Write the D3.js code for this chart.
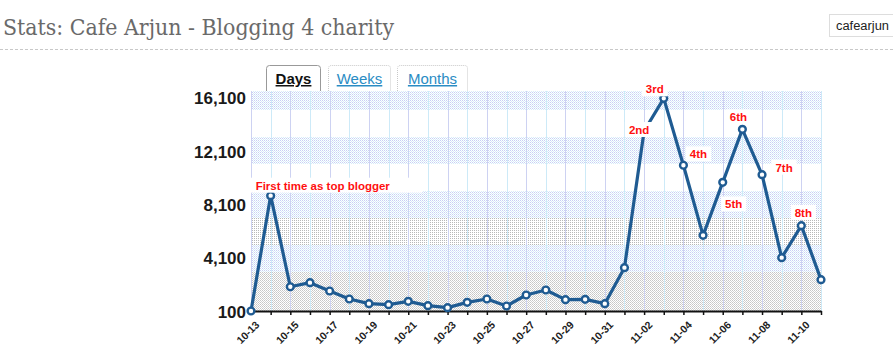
<!DOCTYPE html>
<html><head><meta charset="utf-8">
<script src="https://cdn.jsdelivr.net/npm/d3@7"></script>
<style>
html,body{margin:0;padding:0;background:#fff;}
svg{display:block;}
</style></head>
<body>
<svg id="chart" width="893" height="357"></svg>
<script>
const title = "Stats: Cafe Arjun - Blogging 4 charity";
const userName = "cafearjun";
const tabs = ["Days", "Weeks", "Months"];
const dates = ["10-13","10-14","10-15","10-16","10-17","10-18","10-19","10-20","10-21","10-22",
  "10-23","10-24","10-25","10-26","10-27","10-28","10-29","10-30","10-31","11-01",
  "11-02","11-03","11-04","11-05","11-06","11-07","11-08","11-09","11-10","11-11"];
const views = [100, 8750, 1920, 2225, 1600, 1000, 650, 575, 825, 500,
  350, 750, 1000, 475, 1300, 1675, 950, 975, 650, 3350,
  13600, 16050, 11030, 5775, 9750, 13725, 10325, 4100, 6500, 2450];
const yTicks = [100, 4100, 8100, 12100, 16100];
const xTickLabels = dates.filter((d, i) => i % 2 === 0);
const annotations = [
  {date: "10-14", text: "First time as top blogger"},
  {date: "11-02", text: "2nd"},
  {date: "11-03", text: "3rd"},
  {date: "11-04", text: "4th"},
  {date: "11-06", text: "5th"},
  {date: "11-07", text: "6th"},
  {date: "11-08", text: "7th"},
  {date: "11-10", text: "8th"}
];
const bandEdges = [100, 3025, 5050, 7075, 9100, 11125, 13150, 15175, 16600];
const bandKinds = ["grayDense", "blue", "graySparse", "blue", "white", "blue", "white", "blue"];

// layout / style (not data)
const annoStyle = {
  "First time as top blogger": {dx: -15, dy: -10, anchor: "start", padL: 5, padR: 32},
  "2nd": {dx: -5, dy: -1}, "3rd": {dx: -9, dy: -9}, "4th": {dx: 15, dy: -11},
  "5th": {dx: 11, dy: 22}, "6th": {dx: -4, dy: -12}, "7th": {dx: 22, dy: -7},
  "8th": {dx: 2, dy: -13}
};

const svg = d3.select("#chart");
const L = 251, R = 821, T = 91, B = 311;
const x = d3.scalePoint().domain(dates).range([L, R]);
const y = d3.scaleLinear().domain([100, 16600]).range([B, T]);

// patterns
const defs = svg.append("defs");
function pat(id, cells) {
  const p = defs.append("pattern").attr("id", id).attr("patternUnits", "userSpaceOnUse")
    .attr("width", 2).attr("height", 2);
  p.append("rect").attr("width", 2).attr("height", 2).attr("fill", "#fff");
  cells.forEach(c => p.append("rect").attr("x", c[0]).attr("y", c[1]).attr("width", 1).attr("height", 1)
    .attr("fill", c[2]).attr("shape-rendering", "crispEdges"));
}
pat("blue", [[0,0,"#c8d0f4"],[1,1,"#d6ecfa"]]);
pat("grayDense", [[0,0,"#c6c6c6"],[1,1,"#d2d2d2"]]);
pat("graySparse", [[0,0,"#b8b8b8"]]);
const fills = {blue: "url(#blue)", grayDense: "url(#grayDense)", graySparse: "url(#graySparse)", white: "#fff"};

// title
svg.append("text").attr("x", 3).attr("y", 35).text(title)
  .attr("font-family", "'DejaVu Serif', 'Liberation Serif', serif").attr("font-size", 22)
  .attr("fill", "#6a6a6a").attr("textLength", 391).attr("lengthAdjust", "spacingAndGlyphs");
svg.append("line").attr("x1", 0).attr("x2", 893).attr("y1", 49.5).attr("y2", 49.5)
  .attr("stroke", "#c8c8c8").attr("stroke-dasharray", "3,2");
svg.append("rect").attr("x", 829.5).attr("y", 14.5).attr("width", 70).attr("height", 22)
  .attr("fill", "#fff").attr("stroke", "#bbb").attr("stroke-dasharray", "1,1");
svg.append("text").attr("x", 836).attr("y", 30).text(userName)
  .attr("font-family", "'Liberation Sans', Arial, sans-serif").attr("font-size", 12)
  .attr("fill", "#222").attr("textLength", 53).attr("lengthAdjust", "spacingAndGlyphs");

// tabs
const tabBox = [[266, 321], [328, 391], [397, 468]];
const tabG = svg.append("g");
tabs.forEach((t, i) => {
  const [a, b] = tabBox[i];
  tabG.append("path").attr("d", `M${a + 0.5},${T}V68.5Q${a + 0.5},65.5 ${a + 3.5},65.5H${b - 3.5}Q${b - 0.5},65.5 ${b - 0.5},68.5V${T}`)
    .attr("fill", "#fff").attr("stroke", i === 0 ? "#999" : "#c8c8c8")
    .attr("stroke-dasharray", i === 0 ? null : "1,1");
  tabG.append("text").attr("x", (a + b) / 2).attr("y", 84).attr("text-anchor", "middle").text(t)
    .attr("font-family", "'Liberation Sans', Arial, sans-serif").attr("font-size", 15)
    .attr("font-weight", i === 0 ? "bold" : "normal")
    .attr("fill", i === 0 ? "#111" : "#2a8cc4").attr("text-decoration", "underline");
});

// bands
const plot = svg.append("g");
bandKinds.forEach((k, i) => {
  const y0 = Math.round(y(bandEdges[i + 1])), y1 = Math.round(y(bandEdges[i]));
  plot.append("rect").attr("x", L).attr("y", y0).attr("width", R - L + 1).attr("height", y1 - y0)
    .attr("fill", fills[k]).attr("shape-rendering", "crispEdges");
});
// vertical grid lines
plot.selectAll("line.grid").data(dates).join("line").attr("class", "grid")
  .attr("x1", d => Math.round(x(d)) + 0.5).attr("x2", d => Math.round(x(d)) + 0.5)
  .attr("y1", T).attr("y2", B)
  .attr("stroke", (d, i) => i % 2 ? "#cdeaf8" : "#cdd2f2").attr("stroke-width", 1);

// y axis labels
const yAxis = svg.append("g").attr("transform", `translate(${L - 4},0)`)
  .call(d3.axisLeft(y).tickValues(yTicks).tickSize(0).tickPadding(1).tickFormat(d3.format(",")));
yAxis.select(".domain").remove();
yAxis.selectAll("text").attr("font-family", "'Liberation Sans', Arial, sans-serif")
  .attr("font-size", 17).attr("font-weight", "bold").attr("fill", "#1a1a1a").attr("dy", "0.36em");

// x axis
const xAxis = svg.append("g").attr("transform", `translate(0,${B})`)
  .call(d3.axisBottom(x).tickSize(4).tickSizeOuter(0)
    .tickFormat(d => xTickLabels.includes(d) ? d : ""));
xAxis.select(".domain").attr("stroke", "#111").attr("stroke-width", 2.2);
xAxis.selectAll(".tick line").attr("stroke", "#111").attr("stroke-width", 1.5);
xAxis.selectAll(".tick text").attr("font-family", "'Liberation Sans', Arial, sans-serif")
  .attr("font-size", 10.5).attr("font-weight", "bold").attr("fill", "#222")
  .attr("text-anchor", "end").attr("x", 0).attr("y", 0).attr("dy", "0.35em")
  .attr("transform", "translate(6,12) rotate(-45)");

// line & markers
const line = d3.line().x((d, i) => x(dates[i])).y(d => y(d));
svg.append("path").datum(views).attr("d", line).attr("fill", "none")
  .attr("stroke", "#1f5b92").attr("stroke-width", 3.2).attr("stroke-linejoin", "round");
svg.selectAll("circle.pt").data(views).join("circle").attr("class", "pt")
  .attr("cx", (d, i) => x(dates[i])).attr("cy", d => y(d)).attr("r", 3.4)
  .attr("fill", "#fff").attr("stroke", "#1f5b92").attr("stroke-width", 2.4);

// annotations
const annoG = svg.append("g");
annotations.forEach(a => {
  const st = annoStyle[a.text];
  const v = views[dates.indexOf(a.date)];
  const cx = x(a.date) + st.dx, cy = y(v) + st.dy;
  const g = annoG.append("g");
  const t = g.append("text").attr("x", cx).attr("y", cy).attr("dy", "0.35em")
    .attr("text-anchor", st.anchor || "middle").text(a.text)
    .attr("font-family", "'Liberation Sans', Arial, sans-serif").attr("font-size", 11.5)
    .attr("font-weight", "bold").attr("fill", "#ff1010");
  const bb = t.node().getBBox();
  const pl = st.padL || 4, pr = st.padR || 4;
  g.insert("rect", "text").attr("x", bb.x - pl).attr("y", bb.y - 2)
    .attr("width", bb.width + pl + pr).attr("height", bb.height + 3).attr("fill", "#fff");
});
</script>
</body></html>
